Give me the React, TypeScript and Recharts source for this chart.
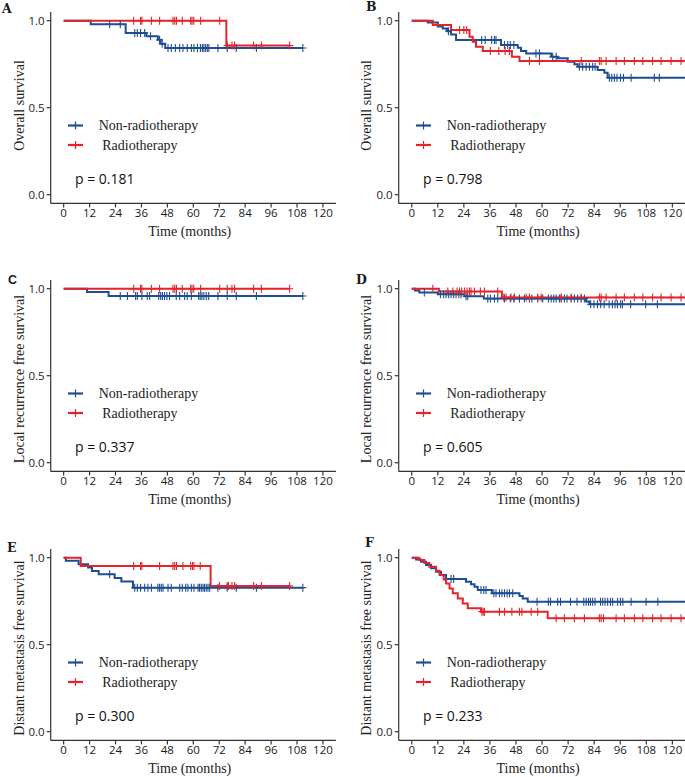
import React from 'react';
import { ComposedChart, Line, Scatter, XAxis, YAxis } from 'recharts';

const BLUE = '#1d4e91';
const RED = '#e4232a';

const xTicks = [0, 12, 24, 36, 48, 60, 72, 84, 96, 108, 120];
const yTicks = [0, 0.5, 1];
const legendLabels = ['Non-radiotherapy', ' Radiotherapy'];

// A - overall survival (left)
const aNonSteps = [[0, 1], [12.5, 0.98], [28.7, 0.93], [38.3, 0.91], [43.6, 0.89], [44.9, 0.867], [47, 0.843], [110.7, 0.843]];
const aNonCens = [21.3, 26.2, 32.9, 34.1, 35.6, 37.5, 40.2, 44.4, 45.6, 48.3, 49.8, 51.7, 53.7, 55.2, 57.2, 59.1, 60.3, 61.9, 63.3, 64.2, 64.9, 65.7, 66.5, 67.2, 71.4, 75.7, 79.9, 89.2, 110.7];
const aRadSteps = [[0, 1], [75.3, 0.857], [104.6, 0.857]];
const aRadCens = [32.4, 35.6, 36.2, 40.6, 44.4, 50.6, 51.4, 52.2, 54.9, 58.8, 59.4, 60.2, 63.4, 72.2, 75.7, 77.9, 79.1, 87.9, 91.5, 104.6];

// B - overall survival (right)
const bNonSteps = [[0, 1], [7.4, 0.989], [12, 0.966], [14.3, 0.955], [16.3, 0.94], [18.1, 0.921], [20.4, 0.889], [41.1, 0.86], [48.8, 0.845], [50.3, 0.826], [52.7, 0.812], [64.2, 0.793], [67.2, 0.784], [71.8, 0.764], [74.9, 0.749], [76.4, 0.736], [85.6, 0.716], [88.7, 0.701], [90.2, 0.672], [126, 0.672]];
const bNonCens = [16.9, 32.2, 33.8, 36.8, 38.1, 38.8, 42.7, 44.2, 45.4, 47, 57.2, 58.8, 64.9, 66.5, 77.2, 78.7, 80.3, 81.8, 83.3, 84.4, 91, 92.1, 93.3, 94.5, 96.1, 97.5, 101, 111.7, 114];
const bRadSteps = [[0, 1], [9.7, 0.975], [18.1, 0.946], [26.6, 0.908], [28.1, 0.879], [29.6, 0.851], [32.7, 0.826], [46.1, 0.793], [49.6, 0.768], [126, 0.768]];
const bRadCens = [22, 24, 25.3, 36.2, 40.1, 43, 45, 54.2, 58.8, 78, 86.4, 87.2, 89.5, 94.1, 97.9, 102.5, 106.4, 110.9, 114.8, 119.4, 124];

// C - local recurrence free survival (left)
const cNonSteps = [[0, 1], [10.8, 0.981], [20.8, 0.958], [110.7, 0.958]];
const cNonCens = [26.2, 29.5, 33.3, 34.1, 36.2, 38.7, 39.8, 44, 44.9, 45.7, 46.7, 47.8, 49, 52.1, 53.7, 56, 57.2, 59.1, 62.5, 63.2, 64, 64.9, 66, 67.1, 71.4, 75.7, 79.9, 89.2, 110.7];
const cRadSteps = [[0, 1], [104.6, 1]];
const cRadCens = [32.4, 35.6, 36.2, 40.6, 44.4, 50.6, 51.4, 52.2, 54.9, 58.8, 59.4, 60.2, 63.4, 72.2, 75.7, 77.9, 79.1, 87.9, 91.5, 104.6];

// D - local recurrence free survival (right)
const dNonSteps = [[0, 1], [1.5, 0.99], [3.5, 0.978], [12, 0.968], [24.3, 0.957], [33.2, 0.943], [80.3, 0.926], [81.8, 0.91], [126, 0.91]];
const dNonCens = [5.8, 13.2, 14.7, 15.8, 17, 18.1, 19.3, 20.4, 21.7, 22.7, 25, 25.8, 35, 36.2, 38.1, 39.6, 42.7, 45.4, 47, 49.6, 51.9, 54.2, 55.3, 58, 60.3, 62.9, 64.2, 65.4, 66.5, 68, 68.8, 70.3, 71.5, 73.4, 74.9, 76.4, 78, 79.5, 82.4, 83.9, 85.5, 87, 88.6, 90.9, 92.4, 93.6, 94.7, 96.2, 97, 100.8, 107.7, 113.1];
const dRadSteps = [[0, 1], [12.5, 0.984], [41.5, 0.95], [126, 0.95]];
const dRadCens = [9.7, 16.6, 18.9, 20.9, 22, 23, 24.3, 25.5, 26.6, 27.3, 28.9, 31.6, 33.5, 39.6, 42.4, 43.4, 45.7, 47.3, 52.7, 54.2, 58, 59.6, 68.8, 73.4, 78, 86.4, 87.2, 89.5, 94.1, 97.9, 102.5, 106.4, 110.9, 114.8, 119.4, 124];

// E - distant metastasis free survival (left)
const eNonSteps = [[0, 1], [1, 0.983], [6.9, 0.962], [11.3, 0.943], [13.1, 0.924], [16.2, 0.905], [23.6, 0.884], [26.7, 0.863], [32.1, 0.828], [110.7, 0.828]];
const eNonCens = [21.3, 32.9, 34.1, 35.6, 37.5, 39, 40.6, 43.6, 44.4, 45.2, 46, 48.3, 49.8, 53.7, 54.9, 56.5, 57.5, 59.1, 60.3, 62.2, 62.9, 63.7, 64.5, 65.2, 66, 66.8, 67.6, 71.4, 75.7, 79.9, 89.2, 110.7];
const eRadSteps = [[0, 1], [7.9, 0.952], [68, 0.838], [104.6, 0.838]];
const eRadCens = [32.4, 35.6, 36.2, 44.4, 50.6, 51.4, 52.2, 55.2, 58.8, 59.6, 60.3, 63.2, 72.2, 75.7, 76.3, 77.9, 79.1, 87.9, 91.5, 104.6];

// F - distant metastasis free survival (right)
const fNonSteps = [[0, 1], [2, 0.99], [4.3, 0.977], [6.6, 0.958], [8.9, 0.939], [11.2, 0.919], [13.5, 0.9], [15.8, 0.877], [25, 0.862], [27.3, 0.848], [28.9, 0.833], [30.4, 0.814], [36.9, 0.795], [49.6, 0.78], [51.1, 0.766], [53.4, 0.747], [126, 0.747]];
const fNonCens = [18.1, 19.3, 31.9, 33.2, 34.2, 37.8, 38.8, 40.4, 41.5, 42.7, 43.9, 45, 46.5, 57.7, 62.9, 63.9, 67.2, 68.5, 73.1, 76.1, 79.2, 80.3, 81.4, 82.3, 83.3, 84.4, 86.9, 87.9, 89, 90.2, 91.5, 92.5, 94.8, 96.1, 97.2, 101, 107.9, 113.3];
const fRadSteps = [[0, 1], [3.5, 0.987], [5.8, 0.97], [8.1, 0.948], [11.2, 0.925], [12.8, 0.9], [14.7, 0.875], [15.8, 0.852], [17.4, 0.823], [18.9, 0.795], [21.2, 0.766], [23.5, 0.737], [25.8, 0.709], [31.9, 0.69], [62.6, 0.652], [126, 0.652]];
const fRadCens = [32.3, 32.9, 33.5, 40.4, 42.7, 46.1, 49.6, 50.7, 55, 58, 66.5, 70.3, 74.9, 79.5, 86.4, 87.2, 88.3, 94.1, 97.9, 102.5, 106.4, 110.9, 114.8, 119.4, 124];

const survAt = (steps: number[][], t: number) => {
  let s = steps[0][1];
  for (const [st, sv] of steps) if (st <= t) s = sv;
  return s;
};
const toCurve = (steps: number[][]) => steps.map(([t, s]) => ({ t, s }));
const toMarks = (steps: number[][], times: number[]) => times.map((t) => ({ t, s: survAt(steps, t) }));

const plus = (color: string) => (props: any) => {
  const { cx, cy } = props;
  if (cx == null || cy == null) return <g />;
  return (
    <path
      d={`M${cx - 3.5},${cy}H${cx + 3.5}M${cx},${cy - 4}V${cy + 4}`}
      stroke={color}
      strokeWidth={1.1}
      fill="none"
    />
  );
};

const W = 343;
const H = 250;
const PLOT_TOP = 12;
const PLOT_H = 191.4;
const tickStyle = { fontFamily: "'Open Sans', sans-serif", fontSize: 11.5, fill: '#1a1a1a' };
const serif = "'Liberation Serif', 'Times New Roman', serif";

type PanelProps = {
  left: number;
  top: number;
  right?: boolean;
  letter: string;
  letterX: number;
  letterY: number;
  letterSans?: boolean;
  yTitle: string;
  yTitleY: number;
  p: string;
  non: [number[][], number[]];
  rad: [number[][], number[]];
};

const KMPanel = ({ left, top, right, letter, letterX, letterY, letterSans, yTitle, yTitleY, p, non, rad }: PanelProps) => {
  const axisW = right ? 55.7 : 50.7;
  const marginRight = right ? 0.6 : 7.1;
  const titleX = right ? 195 : 189.7;
  const yTitleBase = right ? 27.5 : 23.5;
  const legY = [125.5, 145];
  const colors = [BLUE, RED];
  return (
    <div style={{ position: 'absolute', left, top, width: W, height: H }}>
      <ComposedChart width={W} height={H} margin={{ top: PLOT_TOP, right: marginRight, bottom: 0, left: 0 }}>
        <XAxis
          type="number"
          dataKey="t"
          domain={[-6, 126]}
          ticks={xTicks}
          allowDataOverflow
          height={H - PLOT_TOP - PLOT_H}
          tick={tickStyle}
          tickSize={4}
          tickMargin={1}
          stroke="#333"
          strokeWidth={1.2}
        />
        <YAxis
          type="number"
          domain={[-0.05, 1.05]}
          ticks={yTicks}
          allowDataOverflow
          width={axisW}
          tick={tickStyle}
          tickSize={4}
          tickMargin={2}
          tickFormatter={(v: number) => v.toFixed(1)}
          stroke="#333"
          strokeWidth={1.2}
        />
        <Line data={toCurve(non[0])} dataKey="s" type="stepAfter" stroke={BLUE} strokeWidth={2} dot={false} isAnimationActive={false} />
        <Scatter data={toMarks(non[0], non[1])} dataKey="s" shape={plus(BLUE)} isAnimationActive={false} />
        <Line data={toCurve(rad[0])} dataKey="s" type="stepAfter" stroke={RED} strokeWidth={2} dot={false} isAnimationActive={false} />
        <Scatter data={toMarks(rad[0], rad[1])} dataKey="s" shape={plus(RED)} isAnimationActive={false} />
      </ComposedChart>
      <svg width={W} height={H} style={{ position: 'absolute', left: 0, top: 0, pointerEvents: 'none', overflow: 'visible' }}>
        <text
          x={letterX}
          y={letterY}
          fontFamily={letterSans ? "'Liberation Sans', Arial, sans-serif" : "'DejaVu Serif', serif"}
          fontWeight="bold"
          fontSize={12.5}
          fill="#1a1a1a"
        >
          {letter}
        </text>
        <text
          transform={`translate(${yTitleBase},${yTitleY}) rotate(-90)`}
          textAnchor="middle"
          fontFamily={serif}
          fontSize={14}
          fill="#222"
        >
          {yTitle}
        </text>
        <text x={titleX} y={236} textAnchor="middle" fontFamily={serif} fontSize={14} fill="#222">
          Time (months)
        </text>
        {legendLabels.map((lab, i) => (
          <g key={lab}>
            <line x1={axisW + 17.3} x2={axisW + 32.3} y1={legY[i]} y2={legY[i]} stroke={colors[i]} strokeWidth={2.2} />
            <path
              d={`M${axisW + 24.8},${legY[i] - 4}V${legY[i] + 4}`}
              stroke={colors[i]}
              strokeWidth={1.2}
            />
            <text
              x={axisW + 48}
              y={legY[i] + 4.8}
              fontFamily={serif}
              fontSize={14}
              fill="#222"
              style={{ whiteSpace: 'pre' }}
            >
              {lab}
            </text>
          </g>
        ))}
        <text x={axisW + 24.3} y={184} fontFamily="'Open Sans', sans-serif" fontSize={14} fill="#111">
          {p}
        </text>
      </svg>
    </div>
  );
};

export default function App() {
  return (
    <div style={{ position: 'absolute', left: 0, top: 0, width: 685, height: 777, overflow: 'hidden', background: '#fff' }}>
      <KMPanel left={0} top={0} letter="A" letterX={2} letterY={13} yTitle="Overall survival" yTitleY={105.5} p="p = 0.181" non={[aNonSteps, aNonCens]} rad={[aRadSteps, aRadCens]} />
      <KMPanel left={343} top={0} right letter="B" letterX={23} letterY={11} yTitle="Overall survival" yTitleY={105.5} p="p = 0.798" non={[bNonSteps, bNonCens]} rad={[bRadSteps, bRadCens]} />
      <KMPanel left={0} top={268} letter="C" letterX={8} letterY={16} letterSans yTitle="Local recurrence free survival" yTitleY={111} p="p = 0.337" non={[cNonSteps, cNonCens]} rad={[cRadSteps, cRadCens]} />
      <KMPanel left={343} top={268} right letter="D" letterX={13} letterY={16} yTitle="Local recurrence free survival" yTitleY={111} p="p = 0.605" non={[dNonSteps, dNonCens]} rad={[dRadSteps, dRadCens]} />
      <KMPanel left={0} top={537} letter="E" letterX={7} letterY={15} yTitle="Distant metastasis free survival" yTitleY={111} p="p = 0.300" non={[eNonSteps, eNonCens]} rad={[eRadSteps, eRadCens]} />
      <KMPanel left={343} top={537} right letter="F" letterX={22} letterY={10} yTitle="Distant metastasis free survival" yTitleY={111} p="p = 0.233" non={[fNonSteps, fNonCens]} rad={[fRadSteps, fRadCens]} />
    </div>
  );
}
